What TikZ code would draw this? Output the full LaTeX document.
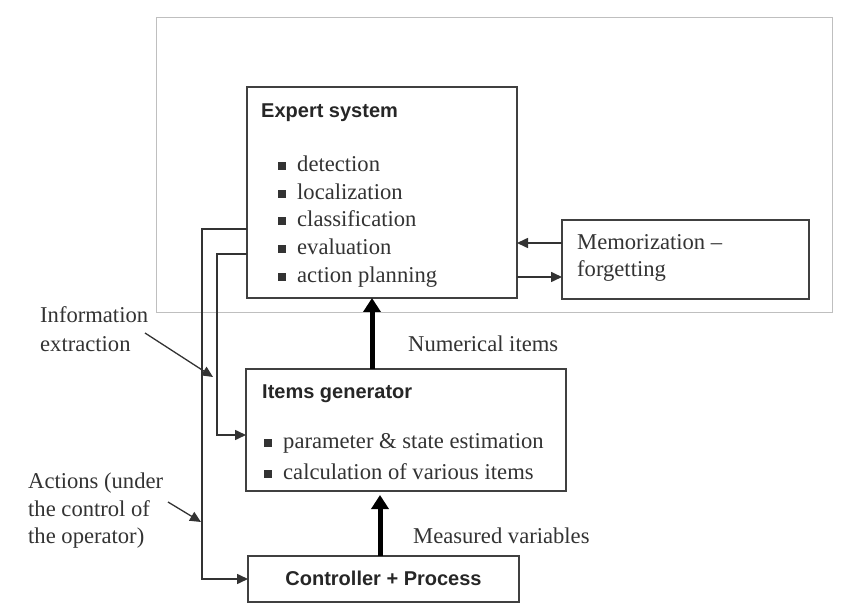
\documentclass[tikz,border=0pt]{standalone}
\usepackage{fontspec}
\setmainfont{Liberation Serif}
\newfontfamily\titlefont{Liberation Sans}
\usetikzlibrary{arrows.meta,calc}
\newcommand\sqbul{\rule[1.5pt]{7.5pt}{8pt}\hspace{11.5pt}}
\begin{document}
\begin{tikzpicture}[x=1pt,y=-1pt,
  box/.style={draw=black!75, line width=1.8pt, rectangle, inner sep=0pt, outer sep=0pt, anchor=north west},
  txt/.style={anchor=base west, inner sep=0pt, text=black!80, font=\fontsize{22.6}{27}\selectfont},
  ttl/.style={anchor=base west, inner sep=0pt, text=black!85, font=\titlefont\bfseries\fontsize{20}{24}\selectfont},
  conn/.style={draw=black!80, line width=1.6pt, -{Triangle[length=11pt,width=10pt]}},
  thickarr/.style={draw=black, line width=5pt, -{Triangle[length=14pt,width=17pt]}},
]
\useasboundingbox (0,0) rectangle (844,612);
\fill[white] (0,0) rectangle (844,612);

% outer frame
\node[draw=black!25, line width=1.2pt, rectangle, inner sep=0pt, anchor=north west,
      minimum width=676pt, minimum height=295pt] (frame) at (156,17) {};

% boxes
\node[box, minimum width=270pt, minimum height=211pt] (es) at (247,87) {};
\node[box, minimum width=247pt, minimum height=79pt] (mem) at (562,220) {};
\node[box, minimum width=320pt, minimum height=122pt] (ig) at (246,369) {};
\node[box, minimum width=271pt, minimum height=46pt] (ctrl) at (248,556) {};

% expert system text
\node[ttl] (est) at (261,118) {Expert system};
\node[txt] (e1) at (278,171.5) {\sqbul detection};
\node[txt] (e2) at (278,199.2) {\sqbul localization};
\node[txt] (e3) at (278,226.9) {\sqbul classification};
\node[txt] (e4) at (278,254.6) {\sqbul evaluation};
\node[txt] (e5) at (278,282.3) {\sqbul action planning};

% memorization
\node[txt] (m1) at (577,250) {Memorization --};
\node[txt] (m2) at (577,277) {forgetting};

% items generator
\node[ttl] (igt) at (262,399) {Items generator};
\node[txt] (i1) at (264,448) {\sqbul parameter \& state estimation};
\node[txt] (i2) at (264,479) {\sqbul calculation of various items};

% controller
\node[anchor=base, inner sep=0pt, text=black!85, font=\titlefont\bfseries\fontsize{20}{24}\selectfont] (ct) at (383.5,585) {Controller + Process};

% labels
\node[txt] (num) at (408,352) {Numerical items};
\node[txt] (meas) at (413,543) {Measured variables};
\node[txt] (inf1) at (40,323) {Information};
\node[txt] (inf2) at (40,351.5) {extraction};
\node[txt] (act1) at (28,488) {Actions (under};
\node[txt] (act2) at (28,516) {the control of};
\node[txt] (act3) at (28,543) {the operator)};

% connectors memo <-> expert
\coordinate (ya) at (0,243);
\coordinate (yb) at (0,277);
\draw[conn] (mem.west |- ya) -- (es.east |- ya);
\draw[conn] (es.east |- yb) -- (mem.west |- yb);

% left feedback lines
\coordinate (c1) at (202,229);
\coordinate (c2) at (217,254);
\coordinate (c3) at (217,435);
\draw[conn] (es.west |- c1) -- (c1) |- (ctrl.west);
\draw[conn] (es.west |- c2) -- (c2) -- (c3) -- (ig.west |- c3);

% thick arrows
\coordinate (t1) at (372,0);
\coordinate (t2) at (380,0);
\draw[thickarr] (ig.north -| t1) -- (es.south -| t1);
\draw[thickarr, shorten >=4pt] (ctrl.north -| t2) -- (ig.south -| t2);

% label pointers
\coordinate (pa) at (145,333);
\coordinate (pb) at (213,377);
\draw[conn, line width=1.3pt] (pa) -- (pb);
\coordinate (qa) at (168,502);
\coordinate (qb) at (201,522);
\draw[conn, line width=1.3pt] (qa) -- (qb);
\end{tikzpicture}
\end{document}
